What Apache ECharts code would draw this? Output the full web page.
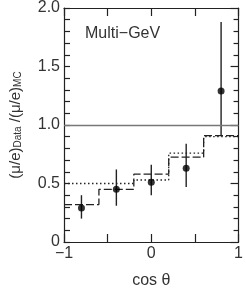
<!DOCTYPE html>
<html><head><meta charset="utf-8">
<script src="https://cdn.jsdelivr.net/npm/echarts@6/dist/echarts.min.js"></script>
<style>html,body{margin:0;padding:0;background:#fff}#c{width:246px;height:294px}</style>
</head><body><div id="c"></div>
<script>
// bins in cos(theta)
const binEdges = [-1, -0.6, -0.2, 0.2, 0.6, 1.0];
const binCenters = [-0.8, -0.4, 0.0, 0.4, 0.8];
// data points: ratio, error upper, error lower bounds
const dataValues = [0.29, 0.45, 0.51, 0.63, 1.29];
const errHigh = [0.40, 0.62, 0.66, 0.84, 1.88];
const errLow = [0.20, 0.31, 0.40, 0.47, 0.91];
// MC expectation histograms
const dashedHist = [0.32, 0.45, 0.58, 0.725, 0.91];
const dottedHist = [0.50, 0.50, 0.53, 0.76, 0.90];
const xTickLabels = {'-1': '\u22121', '0': '0', '1': '1'};
const yTickLabels = {'0': '0', '0.5': '0.5', '1': '1.0', '1.5': '1.5', '2': '2.0'};
const refLevel = 1.0;

function stepPoints(vals) {
  const pts = [];
  vals.forEach((v, i) => { pts.push([binEdges[i], v]); pts.push([binEdges[i + 1], v]); });
  return pts;
}
const FONT = "'Liberation Sans', Arial, sans-serif";
const AX = '#222';
const TXT = '#333';
const chart = echarts.init(document.getElementById('c'), null, {renderer: 'canvas'});
const axisCommon = {
  interval: 0.5,
  axisLine: {show: true, onZero: false, lineStyle: {color: AX, width: 1.2}},
  splitLine: {show: false}
};
chart.setOption({
  animation: false,
  grid: {left: 62, right: 6, top: 6, bottom: 48, containLabel: false},
  graphic: [{
    type: 'text', left: 85, top: 26,
    style: {text: 'Multi\u2212GeV', font: '16px ' + FONT, fill: TXT}
  }],
  xAxis: [
    Object.assign({}, axisCommon, {
      type: 'value', min: -1, max: 1, position: 'bottom',
      axisTick: {show: true, inside: true, length: 8, lineStyle: {color: AX, width: 1.2}},
      axisLabel: {show: true, margin: 4, fontSize: 16, fontFamily: FONT, color: TXT,
        formatter: v => xTickLabels[String(v)] || ''},
      name: 'cos \u03b8', nameLocation: 'middle', nameGap: 31,
      nameTextStyle: {fontSize: 16, fontFamily: FONT, color: TXT}
    }),
    Object.assign({}, axisCommon, {
      type: 'value', min: -1, max: 1, position: 'top',
      axisTick: {show: true, inside: true, length: 8, lineStyle: {color: AX, width: 1.2}},
      axisLabel: {show: false}
    })
  ],
  yAxis: [
    Object.assign({}, axisCommon, {
      type: 'value', min: 0, max: 2, position: 'left',
      axisTick: {show: true, inside: true, length: 6, lineStyle: {color: AX, width: 1.2}},
      minorTick: {show: true, splitNumber: 5, length: 6, lineStyle: {color: AX, width: 1.2}},
      axisLabel: {show: true, margin: 4, fontSize: 16, fontFamily: FONT, color: TXT,
        formatter: v => yTickLabels[String(v)] || ''},
      name: '{a|(\u03bc/e)}{s|Data}{a| /(\u03bc/e)}{s|MC}',
      nameLocation: 'middle', nameRotate: 90, nameGap: 41,
      nameTextStyle: {fontFamily: FONT, color: TXT,
        rich: {
          a: {fontSize: 15, fontFamily: FONT, color: TXT, lineHeight: 18, verticalAlign: 'bottom'},
          s: {fontSize: 10, fontFamily: FONT, color: TXT, lineHeight: 18, verticalAlign: 'bottom'}
        }}
    }),
    Object.assign({}, axisCommon, {
      type: 'value', min: 0, max: 2, position: 'right',
      axisTick: {show: true, inside: true, length: 8, lineStyle: {color: AX, width: 1.2}},
      minorTick: {show: true, splitNumber: 5, length: 5, lineStyle: {color: AX, width: 1.2}},
      axisLabel: {show: false}
    })
  ],
  series: [
    {
      type: 'line', data: stepPoints(dashedHist), symbol: 'none',
      lineStyle: {color: '#222', width: 1.3, type: [8, 3]}, z: 3,
      markLine: {silent: true, symbol: 'none', label: {show: false},
        lineStyle: {color: '#777', width: 1.3, type: 'solid'}, data: [{yAxis: refLevel}]}
    },
    {
      type: 'line', data: stepPoints(dottedHist), symbol: 'none',
      lineStyle: {color: '#222', width: 1.3, type: [1.5, 2.5]}, z: 3
    },
    {
      type: 'custom', z: 4,
      data: binCenters.map((x, i) => [x, errLow[i], errHigh[i]]),
      renderItem: (params, api) => {
        const p1 = api.coord([api.value(0), api.value(1)]);
        const p2 = api.coord([api.value(0), api.value(2)]);
        return {type: 'line', shape: {x1: p1[0], y1: p1[1], x2: p2[0], y2: p2[1]},
          style: {stroke: '#222', lineWidth: 1.4}};
      }
    },
    {
      type: 'scatter', z: 5, symbol: 'circle', symbolSize: 7,
      itemStyle: {color: '#000'},
      data: binCenters.map((x, i) => [x, dataValues[i]])
    }
  ]
});
</script></body></html>
